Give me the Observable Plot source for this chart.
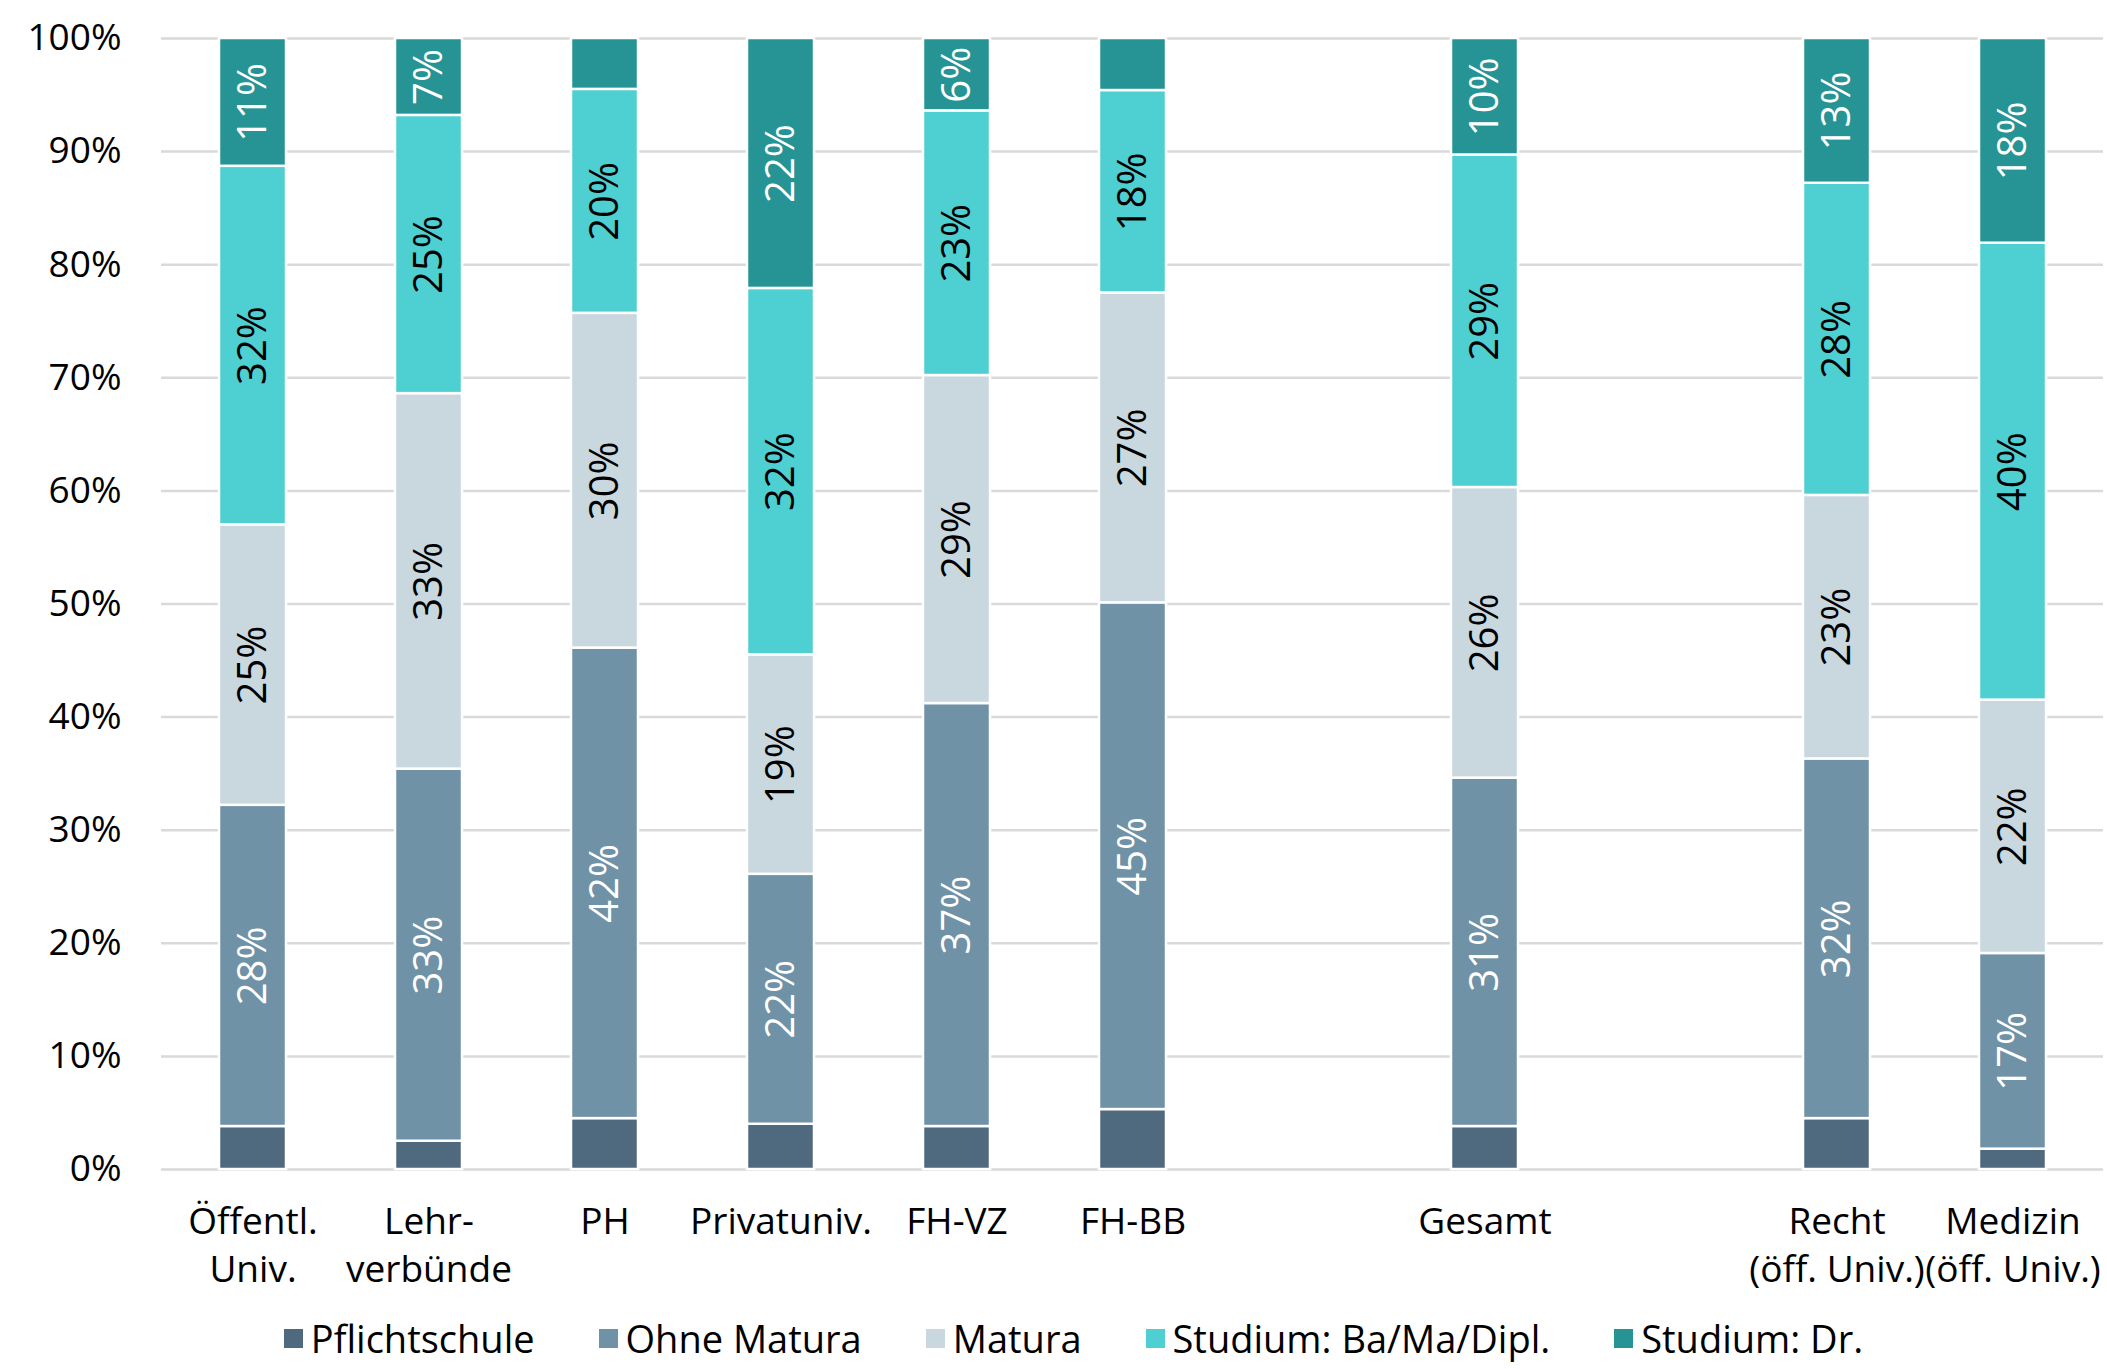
<!DOCTYPE html>
<html><head><meta charset="utf-8">
<script src="https://cdn.jsdelivr.net/npm/d3@7"></script>
<script src="https://cdn.jsdelivr.net/npm/@observablehq/plot@0.6"></script>
<style>
body{margin:0;background:#fff;font-family:"Open Sans",sans-serif;color:#000;}
#legend{display:flex;justify-content:center;gap:64px;font-size:38px;padding-left:40px;height:60px;align-items:center;margin-top:8px;}
.item{display:flex;align-items:center;gap:8px;}
.sw{width:19px;height:19px;display:inline-block;}
</style></head>
<body><div id="chart"></div><div id="legend"></div>
<script>
const categories = ["Öffentl.\nUniv.", "Lehr-\nverbünde", "PH", "Privatuniv.", "FH-VZ", "FH-BB", "Gesamt", "Recht\n(öff. Univ.)", "Medizin\n(öff. Univ.)"];
const series = ["Pflichtschule", "Ohne Matura", "Matura", "Studium: Ba/Ma/Dipl.", "Studium: Dr."];
const colors = ["#4f6a7e", "#6f92a6", "#c9d7df", "#4ecfd1", "#269494"];
const pflicht = [3.8, 2.5, 4.5, 4.0, 3.8, 5.3, 3.8, 4.5, 1.8];
const ohne    = [28.4, 32.9, 41.6, 22.1, 37.4, 44.8, 30.8, 31.8, 17.3];
const matura  = [24.8, 33.2, 29.6, 19.4, 29.0, 27.4, 25.7, 23.3, 22.4];
const bama    = [31.7, 24.6, 19.8, 32.4, 23.4, 17.9, 29.4, 27.6, 40.4];
const dr      = [11.3, 6.8, 4.5, 22.1, 6.4, 4.6, 10.3, 12.8, 18.1];
const yTicks = [0, 10, 20, 30, 40, 50, 60, 70, 80, 90, 100];

const slots = [...categories.slice(0, 6), "gap1", categories[6], "gap2", ...categories.slice(7)];
const valueArrays = [pflicht, ohne, matura, bama, dr];
const data = [];
series.forEach((s, si) => categories.forEach((c, ci) => data.push({cat: c, series: s, value: valueArrays[si][ci]})));

const whiteSeries = new Set(["Ohne Matura", "Studium: Dr."]);
const blackSeries = new Set(["Matura", "Studium: Ba/Ma/Dipl."]);
const lbl = set => d => (set.has(d.series) && d.value >= 5.5) ? Math.round(d.value) + "%" : "";

const chart = Plot.plot({
  width: 2107,
  height: 1300,
  marginLeft: 161,
  marginRight: 4,
  marginTop: 38,
  marginBottom: 131,
  style: {fontFamily: "'Open Sans', sans-serif", fontSize: "37px", color: "#000", background: "#fff"},
  x: {domain: slots, paddingInner: 0.62, paddingOuter: 0.31, label: null},
  y: {domain: [0, 100], label: null},
  color: {domain: series, range: colors},
  marks: [
    Plot.ruleY(yTicks, {stroke: "#d9d9d9", strokeWidth: 2.5}),
    Plot.barY(data, {x: "cat", y: "value", fill: "series", stroke: "white", strokeWidth: 2.5}),
    Plot.text(data, Plot.stackY({x: "cat", y: "value", z: "series", text: lbl(whiteSeries), rotate: -90, fill: "white", fontSize: 40})),
    Plot.text(data, Plot.stackY({x: "cat", y: "value", z: "series", text: lbl(blackSeries), rotate: -90, fill: "black", fontSize: 40})),
    Plot.axisY(yTicks, {tickSize: 0, tickPadding: 40, tickFormat: d => d + "%", label: null}),
    Plot.axisX({tickSize: 0, tickPadding: 30, lineHeight: 1.3, tickFormat: d => d.startsWith("gap") ? "" : d, label: null})
  ]
});
document.getElementById("chart").appendChild(chart);

const legend = document.getElementById("legend");
series.forEach((s, i) => {
  const it = document.createElement("div");
  it.className = "item";
  it.innerHTML = `<span class="sw" style="background:${colors[i]}"></span><span>${s}</span>`;
  legend.appendChild(it);
});
</script></body></html>
